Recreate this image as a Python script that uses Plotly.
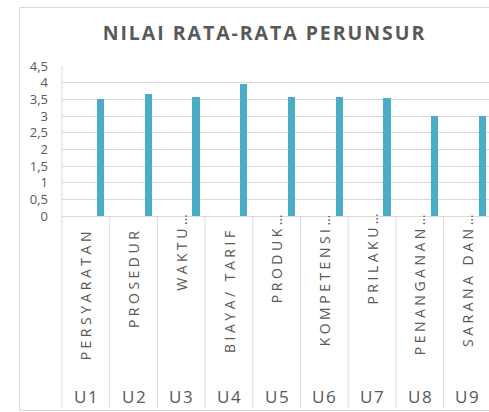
import plotly.graph_objects as go

codes = ["U1", "U2", "U3", "U4", "U5", "U6", "U7", "U8", "U9"]
names = ["PERSYARATAN", "PROSEDUR", "WAKTU…", "BIAYA/ TARIF", "PRODUK…",
         "KOMPETENSI…", "PRILAKU…", "PENANGANAN…", "SARANA DAN…"]
values = [3.5, 3.67, 3.57, 3.97, 3.57, 3.57, 3.53, 3.0, 3.0]
y_ticks = [0, 0.5, 1, 1.5, 2, 2.5, 3, 3.5, 4, 4.5]

TEXT = "#595959"
GRID = "#d9d9d9"
BAR = "#4bacc6"
FONT = "Open Sans, DejaVu Sans, sans-serif"

W, H = 489, 412
ML, MT, MB = 62, 66, 196
plot_w = W - ML
plot_h = H - MT - MB
cat_px = 47.7
xr = [-0.5, -0.5 + plot_w / cat_px]


def spaced(s, sep):
    return sep.join(list(s))


def py(px):
    """pixel row -> paper y"""
    return (H - MB - px) / plot_h


fig = go.Figure()
fig.add_trace(go.Bar(
    x=codes, y=values, marker=dict(color=BAR, line=dict(width=0)),
    width=0.153, offset=0.235, hoverinfo="skip",
))

shapes = []
# outer chart frame
shapes.append(dict(type="rect", xref="paper", yref="paper",
                   x0=(19.5 - ML) / plot_w, x1=1.05,
                   y0=py(410.5), y1=py(7.5),
                   line=dict(color=GRID, width=1), layer="below"))
# category dividers through the label area
for k in range(len(codes)):
    xb = (k - 0.5 - xr[0]) / (xr[1] - xr[0])
    shapes.append(dict(type="line", xref="paper", yref="paper",
                       x0=xb, x1=xb, y0=py(408), y1=1 if k == 0 else 0,
                       line=dict(color=GRID, width=1)))

annotations = []
for c, n in zip(codes, names):
    trunc = n.endswith("…")
    annotations.append(dict(
        x=c, xref="x", y=py(213) if trunc else py(230), yref="paper",
        text=spaced(n, "\u2005"), textangle=-90, showarrow=False,
        xanchor="center", yanchor="top", borderpad=0,
        font=dict(family=FONT, size=14, color=TEXT)))
    annotations.append(dict(
        x=c, xref="x", y=py(396.5), yref="paper",
        text=spaced(c, "\u200a"), showarrow=False,
        xanchor="center", yanchor="middle",
        font=dict(family=FONT, size=17, color=TEXT)))

fig.update_layout(
    width=W, height=H,
    margin=dict(l=ML, r=0, t=MT, b=MB, pad=0),
    paper_bgcolor="white", plot_bgcolor="white",
    separators=",.",
    showlegend=False,
    title=dict(text=spaced("NILAI RATA-RATA PERUNSUR", "\u200a"),
               x=263.5 / W, xanchor="center", xref="container",
               y=1 - 33 / H, yanchor="middle", yref="container",
               font=dict(family=FONT, size=19.5, color=TEXT, weight="bold")),
    xaxis=dict(range=xr, showticklabels=False, showgrid=False,
               zeroline=False, showline=False, ticks="",
               type="category", fixedrange=True),
    yaxis=dict(range=[0, 4.5], tickvals=y_ticks, showgrid=True,
               gridcolor=GRID, gridwidth=1, zeroline=True,
               zerolinecolor=GRID, zerolinewidth=1, showline=False,
               ticks="", ticklabelstandoff=13,
               tickfont=dict(family=FONT, size=13, color=TEXT),
               fixedrange=True),
    shapes=shapes,
    annotations=annotations,
    bargap=0,
)

fig.write_html(
    "out.html",
    config={"displayModeBar": False},
    post_script="document.body.style.margin='0';document.body.style.overflow='hidden';",
)
